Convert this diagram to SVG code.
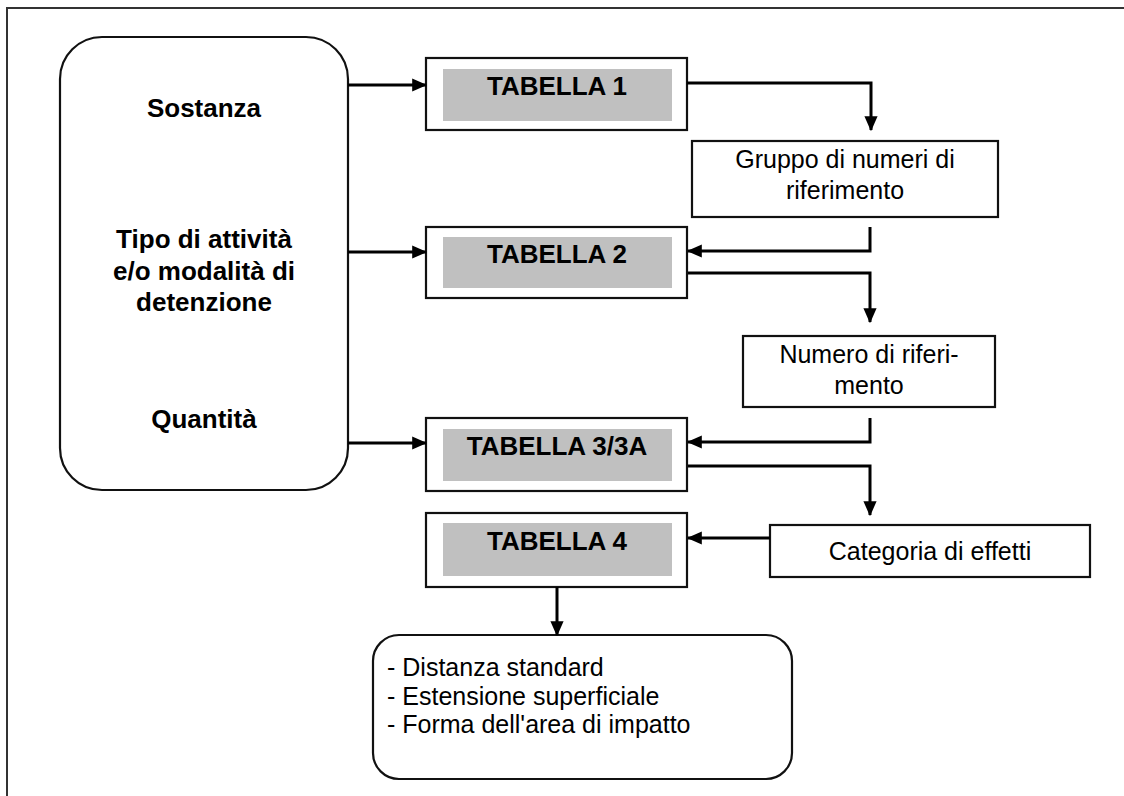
<svg xmlns="http://www.w3.org/2000/svg" width="1124" height="796" viewBox="0 0 1124 796">
<style>
.frame{fill:none;stroke:#333;stroke-width:2}
.node{fill:#fff;stroke:#111;stroke-width:2.2}
.gray{fill:#c0c0c0;stroke:none}
.b{font-family:"Liberation Sans",Arial,sans-serif;font-weight:bold;font-size:26px;fill:#000;text-anchor:middle}
.r{font-family:"Liberation Sans",Arial,sans-serif;font-size:25px;fill:#000;text-anchor:middle}
.l{font-family:"Liberation Sans",Arial,sans-serif;font-size:25px;fill:#000}
.c{fill:none;stroke:#000;stroke-width:3}
</style>
<defs>
<marker id="ah" markerWidth="5" markerHeight="5" refX="4.6" refY="2.5" orient="auto" markerUnits="strokeWidth">
<path d="M0,0.3 L5,2.5 L0,4.7 Z" fill="#000"/>
</marker>
</defs>
<rect width="1124" height="796" fill="#fff"/>
<path class="frame" d="M7,796 V8 H1124"/>
<g id="inputs">
<rect class="node" x="60" y="37" width="288" height="453" rx="42"/>
<text class="b" x="204" y="117">Sostanza</text>
<text class="b" x="204" y="248">Tipo di attività</text>
<text class="b" x="204" y="280">e/o modalità di</text>
<text class="b" x="204" y="311">detenzione</text>
<text class="b" x="204" y="428">Quantità</text>
</g>
<g id="tabella1">
<rect class="node" x="426" y="58" width="261" height="72"/>
<rect class="gray" x="443" y="69" width="229" height="52"/>
<text class="b" x="557" y="95">TABELLA 1</text>
</g>
<g id="tabella2">
<rect class="node" x="426" y="227" width="261" height="71"/>
<rect class="gray" x="443" y="237" width="229" height="51"/>
<text class="b" x="557" y="263">TABELLA 2</text>
</g>
<g id="tabella3">
<rect class="node" x="426" y="418" width="261" height="73"/>
<rect class="gray" x="443" y="429" width="229" height="52"/>
<text class="b" x="557" y="455">TABELLA 3/3A</text>
</g>
<g id="tabella4">
<rect class="node" x="426" y="513" width="261" height="74"/>
<rect class="gray" x="443" y="523" width="229" height="53"/>
<text class="b" x="557" y="550">TABELLA 4</text>
</g>
<g id="gruppo">
<rect class="node" x="692" y="141" width="306" height="76"/>
<text class="r" x="845" y="168">Gruppo di numeri di</text>
<text class="r" x="845" y="199">riferimento</text>
</g>
<g id="numero">
<rect class="node" x="743" y="336" width="252" height="71"/>
<text class="r" x="869" y="363">Numero di riferi-</text>
<text class="r" x="869" y="394">mento</text>
</g>
<g id="categoria">
<rect class="node" x="770" y="525" width="320" height="52"/>
<text class="r" x="930" y="560">Categoria di effetti</text>
</g>
<g id="risultato">
<rect class="node" x="373" y="635" width="419" height="144" rx="26"/>
<text class="l" x="387" y="676">- Distanza standard</text>
<text class="l" x="387" y="705">- Estensione superficiale</text>
<text class="l" x="387" y="733">- Forma dell'area di impatto</text>
</g>
<g id="connectors">
<path class="c" marker-end="url(#ah)" d="M348,85 H426"/>
<path class="c" marker-end="url(#ah)" d="M348,252 H426"/>
<path class="c" marker-end="url(#ah)" d="M348,443 H426"/>
<path class="c" marker-end="url(#ah)" d="M687,83 H871 V130"/>
<path class="c" marker-end="url(#ah)" d="M870,227 V251 H688"/>
<path class="c" marker-end="url(#ah)" d="M688,273 H870 V322"/>
<path class="c" marker-end="url(#ah)" d="M870,418 V442 H688"/>
<path class="c" marker-end="url(#ah)" d="M688,466 H870 V515"/>
<path class="c" marker-end="url(#ah)" d="M770,538 H688"/>
<path class="c" marker-end="url(#ah)" d="M557,587 V635"/>
</g>
</svg>
